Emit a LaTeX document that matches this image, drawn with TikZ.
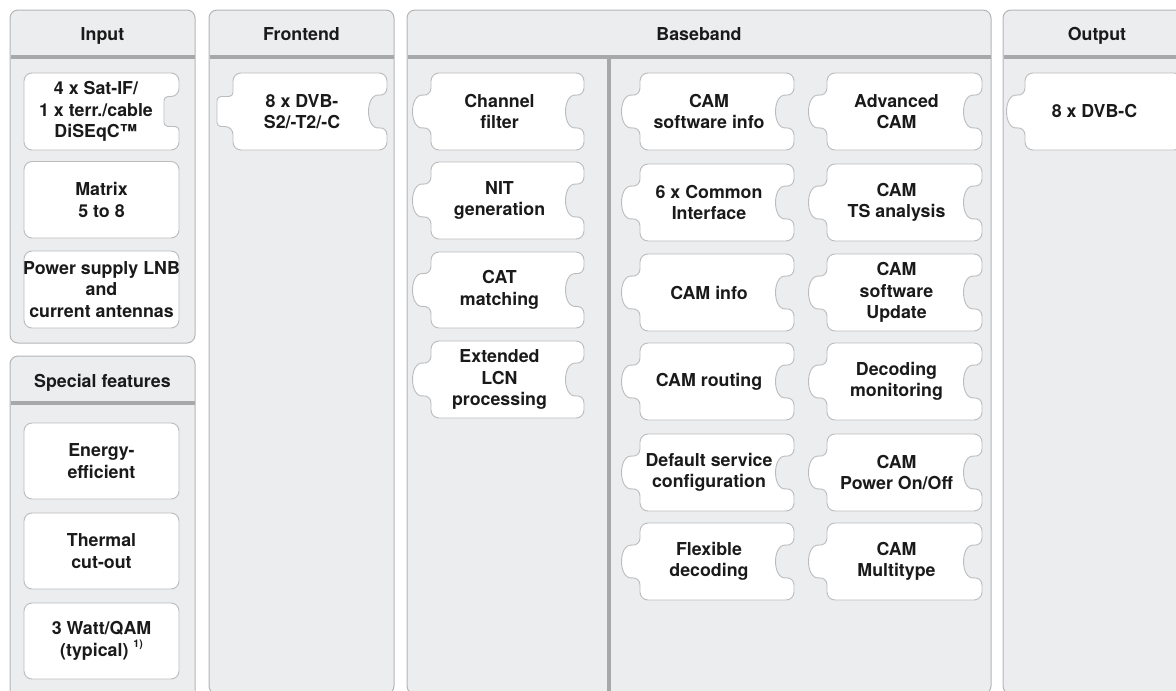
\documentclass[tikz,border=0pt]{standalone}
\usepackage{fontspec}
\setmainfont{TeX Gyre Heros}
\definecolor{panelbg}{HTML}{ECEDEF}
\definecolor{panelline}{HTML}{B4B5B7}
\definecolor{divline}{HTML}{A7A8AA}
\definecolor{boxline}{HTML}{BBBCBE}
\definecolor{txt}{HTML}{1A1A1A}
\newcommand\pzL{}\newcommand\pzR{}\newcommand\pzc{}
\newcommand\pzLnone{}
\newcommand\pzRnone{}
\newcommand\pzRrect{-- (\pzR,\pzc-15) [rounded corners=4pt] -- (\pzR-15,\pzc-15) -- (\pzR-15,\pzc+15) -- (\pzR,\pzc+15) [rounded corners=8pt]}
\newcommand\pzRround{-- (\pzR,\pzc-15.5) .. controls (\pzR-22,\pzc-18) and (\pzR-22,\pzc+18) .. (\pzR,\pzc+15.5)}
\newcommand\pzLrect{-- (\pzL,\pzc+15) [rounded corners=4pt] -- (\pzL-16,\pzc+15) -- (\pzL-16,\pzc-15) -- (\pzL,\pzc-15) [rounded corners=8pt]}
\newcommand\pzLround{-- (\pzL,\pzc+15.5) .. controls (\pzL-22,\pzc+18) and (\pzL-22,\pzc-18) .. (\pzL,\pzc-15.5)}
% #1 name #2 L #3 R #4 T #5 B #6 left feature #7 right feature #8 text x #9 text
\newcommand\pz[9]{%
  \def\pzL{#2}\def\pzR{#3}%
  \pgfmathsetmacro\pzc{(#4+#5)/2}%
  \draw[pzshape] (#2+30,#4) -- (#3,#4) #7 -- (#3,#5) -- (#2,#5) #6 -- (#2,#4) -- cycle;
  \node[lbl] (#1) at (#8,\pzc) {#9};
}
\begin{document}
\begin{tikzpicture}[x=1pt,y=-1pt,
  panel/.style={fill=panelbg, draw=panelline, line width=1pt, rounded corners=8pt},
  divider/.style={draw=divline, line width=4pt},
  pzshape/.style={fill=white, draw=boxline, line width=0.9pt, rounded corners=8pt},
  lbl/.style={align=center, text=txt, inner sep=0pt, font=\bfseries\fontsize{17.8}{21.5}\selectfont},
  head/.style={anchor=base, text=txt, inner sep=0pt, font=\bfseries\fontsize{17.8}{21.5}\selectfont}]
\useasboundingbox (0,0) rectangle (1176,691);
\clip (0,0) rectangle (1176,691);
% panels
\draw[panel] (10,10) rectangle (195,343);
\draw[panel] (10,356) rectangle (195,712);
\draw[panel] (209,10) rectangle (394,694);
\draw[panel] (407,10) rectangle (991,694);
\draw[panel] (1003,10) rectangle (1195,694);
\draw[divider] (10.5,57) -- (194.5,57);
\draw[divider] (10.5,403) -- (194.5,403);
\draw[divider] (209.5,57) -- (393.5,57);
\draw[divider] (407.5,57) -- (990.5,57);
\draw[divider] (1003.5,57) -- (1195,57);
\draw[divider] (609,57) -- (609,700);
% headers
\node[head] (hinput) at (102.5,40) {Input};
\node[head] (hspecial) at (102.5,387) {Special features};
\node[head] (hfront) at (301.5,40) {Frontend};
\node[head] (hbase) at (699,40) {Baseband};
\node[head] (hout) at (1097,40) {Output};
% input
\pz{in1}{24}{179}{73}{150}{\pzLnone}{\pzRrect}{96}{4 x Sat-IF/\\1 x terr./cable\\DiSEqC™}
\pz{in2}{24}{179}{161.5}{238}{\pzLnone}{\pzRnone}{101.5}{Matrix\\5 to 8}
\pz{in3}{24}{179}{251}{328}{\pzLnone}{\pzRnone}{101.5}{Power supply LNB\\and\\current antennas}
% special features
\pz{sp1}{24}{179}{423}{499}{\pzLnone}{\pzRnone}{101.5}{Energy-\\efficient}
\pz{sp2}{24}{179}{513}{589}{\pzLnone}{\pzRnone}{101.5}{Thermal\\cut-out}
\pz{sp3}{24}{179}{603}{679}{\pzLnone}{\pzRnone}{101.5}{3 Watt/QAM\\(typical) \raisebox{0.5em}{\fontsize{10.5}{11}\selectfont 1)}}
% frontend
\pz{fe1}{233}{387}{73}{150}{\pzLrect}{\pzRround}{302}{8 x DVB-\\S2/-T2/-C}
% baseband column 1
\pz{bb1}{431}{584}{73}{150}{\pzLround}{\pzRround}{499.5}{Channel\\filter}
\pz{bb2}{431}{584}{162}{239}{\pzLround}{\pzRround}{499.5}{NIT\\generation}
\pz{bb3}{431}{584}{252}{328}{\pzLround}{\pzRround}{499.5}{CAT\\matching}
\pz{bb4}{431}{584}{341}{418}{\pzLround}{\pzRround}{499.5}{Extended\\LCN\\processing}
% baseband column 2
\pz{ca1}{640}{794}{73}{150}{\pzLround}{\pzRround}{709}{CAM\\software info}
\pz{ca2}{640}{794}{164}{241}{\pzLround}{\pzRround}{709}{6 x Common\\Interface}
\pz{ca3}{640}{794}{254}{331}{\pzLround}{\pzRround}{709}{CAM info}
\pz{ca4}{640}{794}{343}{420}{\pzLround}{\pzRround}{709}{CAM routing}
\pz{ca5}{640}{794}{434}{511}{\pzLround}{\pzRround}{709}{Default service\\configuration}
\pz{ca6}{640}{794}{523}{600}{\pzLround}{\pzRround}{709}{Flexible\\decoding}
% baseband column 3
\pz{cb1}{827}{982}{73}{150}{\pzLround}{\pzRround}{896.5}{Advanced\\CAM}
\pz{cb2}{827}{982}{164}{241}{\pzLround}{\pzRround}{896.5}{CAM\\TS analysis}
\pz{cb3}{827}{982}{254}{331}{\pzLround}{\pzRround}{896.5}{CAM\\software\\Update}
\pz{cb4}{827}{982}{343}{420}{\pzLround}{\pzRround}{896.5}{Decoding\\monitoring}
\pz{cb5}{827}{982}{434}{511}{\pzLround}{\pzRround}{896.5}{CAM\\Power On/Off}
\pz{cb6}{827}{982}{523}{600}{\pzLround}{\pzRround}{896.5}{CAM\\Multitype}
% output
\pz{ou1}{1025}{1182}{73}{150}{\pzLround}{\pzRnone}{1094.5}{8 x DVB-C}
\end{tikzpicture}
\end{document}
